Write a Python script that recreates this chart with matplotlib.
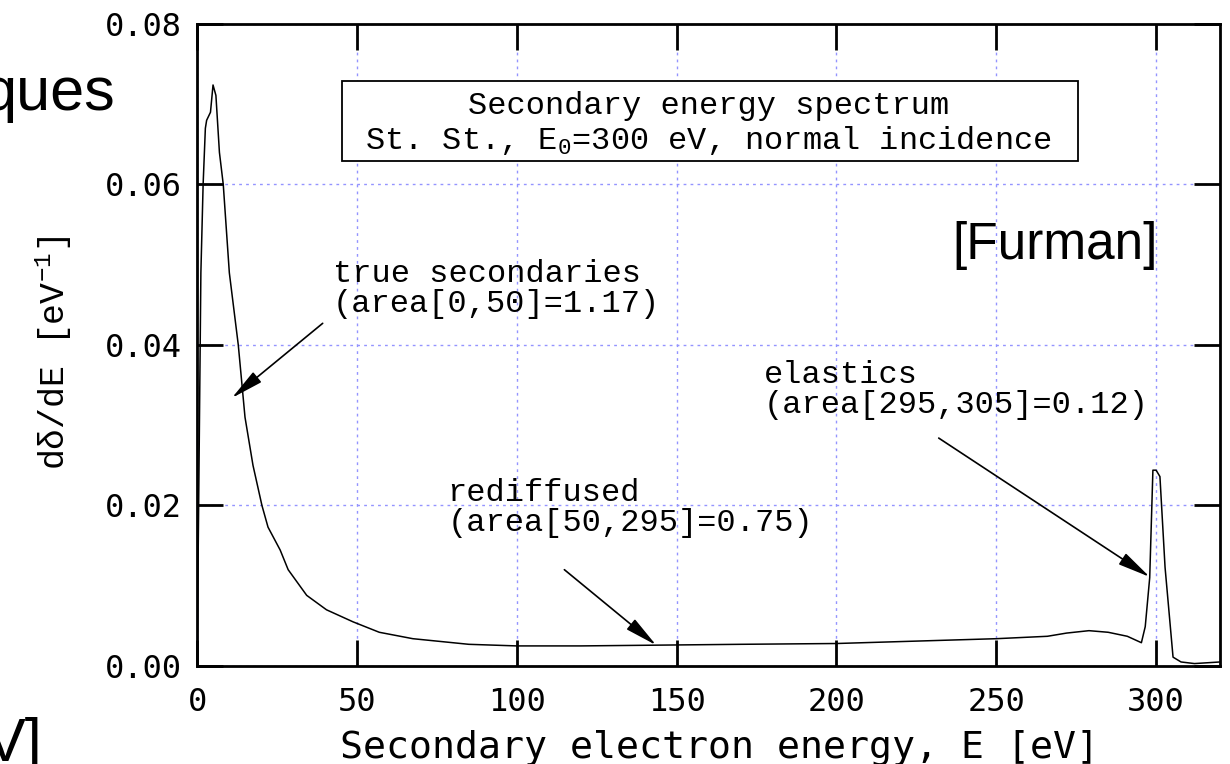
import matplotlib
matplotlib.use("Agg")
import matplotlib.pyplot as plt
from matplotlib.patches import Rectangle

plt.rcParams['mathtext.fontset'] = 'custom'
plt.rcParams['mathtext.rm'] = 'Liberation Mono'
plt.rcParams['mathtext.it'] = 'Liberation Mono'
plt.rcParams['mathtext.bf'] = 'Liberation Mono'

# secondary energy spectrum
energy = [0, 0.5, 1.2, 1.9, 2.6, 3.0, 4.2, 5.0, 5.9, 7.0, 8.2, 10.1, 12.9, 15.0,
          17.5, 20.3, 22.2, 26.0, 28.5, 34.3, 40.5, 48.8, 57.0, 67.5, 85.0,
          100, 120, 145, 170, 200, 225, 250, 266, 272, 279, 285, 291, 295.4,
          296.6, 298, 299, 300, 301.2, 302.8, 305.3, 307.8, 312, 320]
dde = [0, 0.020, 0.049, 0.060, 0.067, 0.068, 0.069, 0.0724, 0.0711, 0.064,
       0.060, 0.049, 0.040, 0.031, 0.025, 0.020, 0.0173, 0.01445, 0.012,
       0.0088, 0.007, 0.0055, 0.0042, 0.0034, 0.0027, 0.0025, 0.0025, 0.0026,
       0.0027, 0.0028, 0.0031, 0.0034, 0.0037, 0.0041, 0.0044, 0.0042, 0.0037,
       0.0029, 0.0049, 0.011, 0.0244, 0.0244, 0.0236, 0.0123, 0.0011, 0.0005,
       0.0003, 0.0005]

xticks = [0, 50, 100, 150, 200, 250, 300]
yticks = [0.00, 0.02, 0.04, 0.06, 0.08]

# annotation texts, tail (text) and arrow tip positions in data units
notes = ["true secondaries\n(area[0,50]=1.17)",
         "rediffused\n(area[50,295]=0.75)",
         "elastics\n(area[295,305]=0.12)"]
note_xy = [(42.5, 0.047), (78.4, 0.0197), (177.3, 0.0344)]
arrow_tail = [(39.3, 0.0427), (114.9, 0.0120), (232.0, 0.0284)]
arrow_tip = [(10.9, 0.0334), (143.6, 0.0026), (298.0, 0.0111)]

fig = plt.figure(figsize=(12.3, 7.64), dpi=100)
ax = fig.add_axes([0.1602, 0.1283, 0.8317, 0.8403])

ax.plot(energy, dde, color='black', lw=1.1)
ax.set_xlim(0, 320)
ax.set_ylim(0, 0.08)
ax.set_xticks(xticks)
ax.set_yticks(yticks)
ax.set_yticklabels(["%.2f" % v for v in yticks])
ax.grid(True, color='#9494ff', lw=1.0, linestyle=(0, (2, 3)))
ax.tick_params(direction='in', length=19, width=2, top=True, right=True,
               labelsize=23)
ax.tick_params(axis='x', pad=15)
ax.tick_params(axis='y', pad=11)
for lab in ax.get_xticklabels() + ax.get_yticklabels():
    lab.set_family('DejaVu Sans Mono')
for s in ax.spines.values():
    s.set_linewidth(2)

ax.set_xlabel("Secondary electron energy, E [eV]", family='DejaVu Sans Mono',
              fontsize=27.5)
ax.xaxis.set_label_coords(0.511, -0.128)
ax.xaxis.label.set_verticalalignment('center')
ax.set_ylabel("d\u03b4/dE [eV$^{-1}$]", family='Liberation Mono', fontsize=25)
ax.yaxis.set_label_coords(-0.1398, 0.4875)
ax.yaxis.label.set_verticalalignment('center')

# title box
ax.add_patch(Rectangle((0.1417, 0.7866), 0.7195, 0.1246, transform=ax.transAxes,
                       fill=True, facecolor='white', edgecolor='black', lw=1.3,
                       zorder=3))
ax.text(0.5, 0.8723, "Secondary energy spectrum", transform=ax.transAxes,
        ha='center', va='center', family='Liberation Mono', fontsize=23, zorder=4)
ax.text(0.5, 0.8178, "St. St., E$_0$=300 eV, normal incidence",
        transform=ax.transAxes, ha='center', va='center',
        family='Liberation Mono', fontsize=23, zorder=4)

for t, xy, tail, tip in zip(notes, note_xy, arrow_tail, arrow_tip):
    ax.text(xy[0], xy[1], t, ha='left', va='center', family='Liberation Mono',
            fontsize=23, linespacing=1.0)
    ax.annotate("", xy=tip, xytext=tail,
                arrowprops=dict(arrowstyle='-|>,head_length=1.0,head_width=0.2',
                                color='black', lw=1.2, mutation_scale=20,
                                shrinkA=0, shrinkB=0))

# slide overlay text
fig.text(1158 / 1230, 1 - 245 / 764, "[Furman]", ha='right', va='center',
         family='Liberation Sans', fontsize=37)
fig.text(115 / 1230, 1 - 110 / 764, "ques", ha='right', va='baseline',
         family='Liberation Sans', fontsize=44)
fig.text(42 / 1230, 1 - 761 / 764, "V]", ha='right', va='baseline',
         family='Liberation Sans', fontsize=44)

fig.savefig("out.png", dpi=100)
